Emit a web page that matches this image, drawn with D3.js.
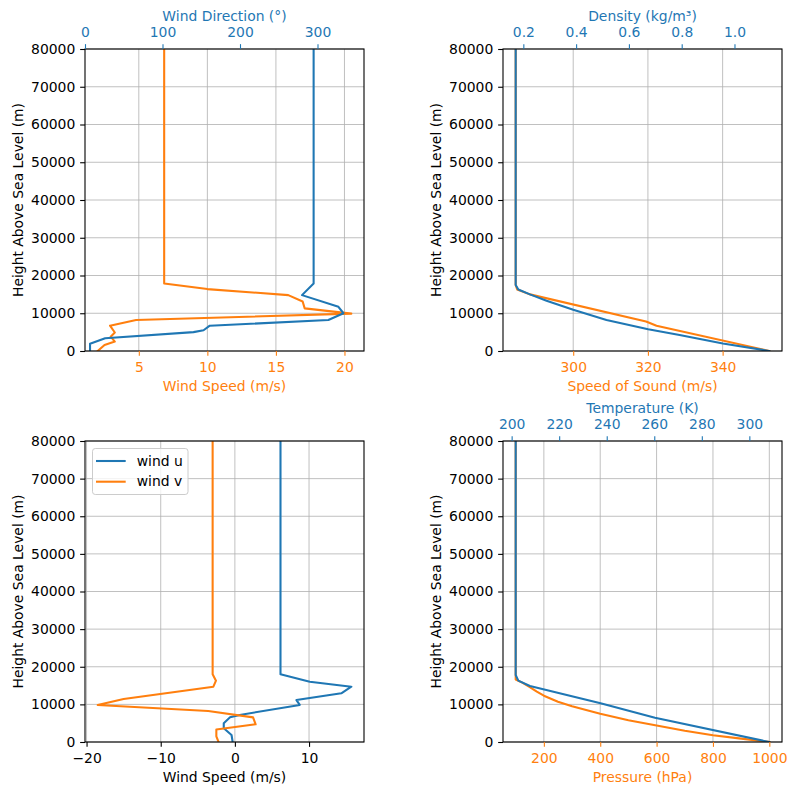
<!DOCTYPE html>
<html>
<head>
<meta charset="utf-8">
<script src="https://cdn.jsdelivr.net/npm/d3@7"></script>
<style>
  body { margin: 0; background: #fff; }
  text { font-family: "DejaVu Sans", sans-serif; }
</style>
</head>
<body>
<div class="container"></div>
<script>
// ---- data ----
const heightTicks = [0, 10000, 20000, 30000, 40000, 50000, 60000, 70000, 80000];

// wind speed / direction (top left)
const speedHeights = [0, 1600, 2500, 3800, 4900, 6700, 8200, 9900, 11300, 13100, 14800, 16400, 17900, 80000];
const windSpeed = [2.0, 2.5, 3.25, 2.95, 3.25, 2.9, 4.8, 20.5, 17.1, 16.95, 15.9, 10.0, 6.85, 6.85];
const directionHeights = [0, 1900, 3400, 5000, 5500, 6700, 8200, 10000, 11700, 14800, 17900, 80000];
const windDirection = [6.5, 6.5, 26, 140, 153, 161, 314, 333.5, 327, 280, 295, 295];
const speedTicks = [5, 10, 15, 20];
const directionTicks = [0, 100, 200, 300];

// speed of sound / density (top right)
const soundHeights = [0, 6700, 7800, 15000, 16300, 17500, 80000];
const soundSpeed = [352.5, 322.3, 319.5, 288.4, 285.0, 284.6, 284.6];
const densityHeights = [0, 2000, 4250, 5750, 8200, 10900, 13300, 15000, 16300, 17500, 80000];
const density = [1.132, 0.956, 0.792, 0.673, 0.515, 0.389, 0.288, 0.225, 0.181, 0.171, 0.171];
const soundTicks = [300, 320, 340];
const densityTicks = [0.2, 0.4, 0.6, 0.8, 1.0];

// wind components (bottom left)
const uHeights = [0, 1850, 3650, 5000, 6550, 7200, 9850, 11150, 12950, 14700, 16000, 18000, 80000];
const windU = [-0.3, -0.45, -1.5, -1.5, -0.65, 0.65, 8.75, 8.3, 14.35, 15.7, 10.1, 6.15, 6.15];
const vHeights = [0, 1500, 3300, 4700, 6550, 8250, 9850, 11450, 14700, 16300, 18000, 80000];
const windV = [-2.2, -2.5, -2.5, 2.8, 2.45, -3.6, -18.5, -15.0, -2.9, -2.55, -3.0, -3.0];
const componentTicks = [-20, -10, 0, 10];

// pressure / temperature (bottom right)
const pressureHeights = [0, 900, 1800, 3000, 4400, 5800, 7500, 9500, 10700, 12300, 13400, 14600, 15700, 16600, 80000];
const pressure = [1000, 900, 800, 700, 600, 500, 400, 300, 250, 200, 175, 150, 125, 100, 100];
const temperatureHeights = [0, 6460, 10290, 14890, 16300, 17800, 80000];
const temperature = [308.4, 260.3, 237.4, 207.7, 202.8, 201.7, 201.7];
const pressureTicks = [200, 400, 600, 800, 1000];
const temperatureTicks = [200, 220, 240, 260, 280, 300];

// ---- layout ----
const width = 797;
const height = 796;
const blue = "#1f77b4";
const orange = "#ff7f0e";
const fontSize = 13.9;
const tickLen = 4.86;

const svg = d3.select(".container")
  .append("svg")
  .attr("width", width)
  .attr("height", height);

// matplotlib style 5% margins around the data
function padded(...arrays) {
  const all = arrays.flat();
  const [lo, hi] = d3.extent(all);
  const pad = (hi - lo) * 0.05;
  return [lo - pad, hi + pad];
}

function panel(p) {
  const g = svg.append("g");
  const y = d3.scaleLinear().domain([0, 80000]).range([p.y1, p.y0]);
  const xb = d3.scaleLinear().domain(p.bottom.domain).range([p.x0, p.x1]);
  const xt = p.top ? d3.scaleLinear().domain(p.top.domain).range([p.x0, p.x1]) : null;

  // grid (from the bottom axis and the height axis)
  g.append("g").selectAll("line")
    .data(p.bottom.ticks)
    .join("line")
    .attr("x1", d => xb(d)).attr("x2", d => xb(d))
    .attr("y1", p.y0).attr("y2", p.y1)
    .attr("stroke", "#b0b0b0").attr("stroke-width", 0.8);
  g.append("g").selectAll("line")
    .data(heightTicks)
    .join("line")
    .attr("x1", p.x0).attr("x2", p.x1)
    .attr("y1", d => y(d)).attr("y2", d => y(d))
    .attr("stroke", "#b0b0b0").attr("stroke-width", 0.8);

  // clip for the curves
  const clipId = "clip" + Math.round(p.x0) + "_" + Math.round(p.y0);
  g.append("clipPath").attr("id", clipId)
    .append("rect")
    .attr("x", p.x0).attr("y", p.y0)
    .attr("width", p.x1 - p.x0).attr("height", p.y1 - p.y0);

  p.series.forEach(s => {
    const sx = s.axis === "top" ? xt : xb;
    const pts = s.values.map((v, i) => [v, s.heights[i]]);
    g.append("path")
      .datum(pts)
      .attr("clip-path", `url(#${clipId})`)
      .attr("fill", "none")
      .attr("stroke", s.color)
      .attr("stroke-width", 2.08)
      .attr("stroke-linejoin", "round")
      .attr("stroke-linecap", "square")
      .attr("d", d3.line().x(d => sx(d[0])).y(d => y(d[1])));
  });

  // spines
  g.append("rect")
    .attr("x", p.x0).attr("y", p.y0)
    .attr("width", p.x1 - p.x0).attr("height", p.y1 - p.y0)
    .attr("fill", "none").attr("stroke", "#000").attr("stroke-width", 1.1);

  // left axis
  const yAxis = g.append("g")
    .attr("transform", `translate(${p.x0},0)`)
    .call(d3.axisLeft(y).tickValues(heightTicks).tickFormat(d3.format("d"))
      .tickSize(tickLen).tickPadding(4.9).tickSizeOuter(0));
  yAxis.select(".domain").remove();
  yAxis.selectAll("line").attr("stroke", "#000").attr("stroke-width", 1.1);
  yAxis.selectAll("text").attr("font-size", fontSize).attr("fill", "#000");

  g.append("text")
    .attr("transform", `translate(${p.x0 - 62},${(p.y0 + p.y1) / 2}) rotate(-90)`)
    .attr("text-anchor", "middle")
    .attr("font-size", fontSize)
    .attr("fill", "#000")
    .text("Height Above Sea Level (m)");

  // bottom axis
  const bAxis = g.append("g")
    .attr("transform", `translate(0,${p.y1})`)
    .call(d3.axisBottom(xb).tickValues(p.bottom.ticks).tickFormat(p.bottom.format)
      .tickSize(tickLen).tickPadding(6.2).tickSizeOuter(0));
  bAxis.select(".domain").remove();
  bAxis.selectAll("line").attr("stroke", p.bottom.color).attr("stroke-width", 1.1);
  bAxis.selectAll("text").attr("font-size", fontSize).attr("fill", p.bottom.color);
  g.append("text")
    .attr("x", (p.x0 + p.x1) / 2).attr("y", p.y1 + 40)
    .attr("text-anchor", "middle")
    .attr("font-size", fontSize)
    .attr("fill", p.bottom.color)
    .text(p.bottom.label);

  // top axis
  if (p.top) {
    const tAxis = g.append("g")
      .attr("transform", `translate(0,${p.y0})`)
      .call(d3.axisTop(xt).tickValues(p.top.ticks).tickFormat(p.top.format)
        .tickSize(tickLen).tickPadding(7.4).tickSizeOuter(0));
    tAxis.select(".domain").remove();
    tAxis.selectAll("line").attr("stroke", p.top.color).attr("stroke-width", 1.1);
    tAxis.selectAll("text").attr("font-size", fontSize).attr("fill", p.top.color);
    g.append("text")
      .attr("x", (p.x0 + p.x1) / 2).attr("y", p.y0 - 28.5)
      .attr("text-anchor", "middle")
      .attr("font-size", fontSize)
      .attr("fill", p.top.color)
      .text(p.top.label);
  }

  // legend
  if (p.legend) {
    const lg = g.append("g");
    lg.append("rect")
      .attr("x", p.x0 + 7.5).attr("y", p.y0 + 7.5)
      .attr("width", 95.5).attr("height", 46)
      .attr("rx", 2.8)
      .attr("fill", "#fff").attr("fill-opacity", 0.8)
      .attr("stroke", "#cccccc");
    p.legend.forEach((item, i) => {
      const ly = p.y0 + 20 + i * 20.7;
      lg.append("line")
        .attr("x1", p.x0 + 11).attr("x2", p.x0 + 40.7)
        .attr("y1", ly).attr("y2", ly)
        .attr("stroke", item.color).attr("stroke-width", 2.08);
      lg.append("text")
        .attr("x", p.x0 + 51.7).attr("y", ly + 4.6)
        .attr("font-size", fontSize)
        .attr("fill", "#000")
        .text(item.label);
    });
  }
}

const intFmt = d3.format("d");

// top left
panel({
  x0: 85, x1: 364, y0: 49, y1: 351,
  bottom: { domain: padded(windSpeed), ticks: speedTicks, format: intFmt, color: orange, label: "Wind Speed (m/s)" },
  top: { domain: [0, 360], ticks: directionTicks, format: intFmt, color: blue, label: "Wind Direction (°)" },
  series: [
    { heights: speedHeights, values: windSpeed, axis: "bottom", color: orange },
    { heights: directionHeights, values: windDirection, axis: "top", color: blue }
  ]
});

// top right
panel({
  x0: 503, x1: 782, y0: 49, y1: 351,
  bottom: { domain: padded(soundSpeed), ticks: soundTicks, format: intFmt, color: orange, label: "Speed of Sound (m/s)" },
  top: { domain: padded(density), ticks: densityTicks, format: d3.format(".1f"), color: blue, label: "Density (kg/m³)" },
  series: [
    { heights: soundHeights, values: soundSpeed, axis: "bottom", color: orange },
    { heights: densityHeights, values: density, axis: "top", color: blue }
  ]
});

// bottom left
panel({
  x0: 85, x1: 364, y0: 441, y1: 742,
  bottom: { domain: padded(windU, windV), ticks: componentTicks, format: intFmt, color: "#000", label: "Wind Speed (m/s)" },
  top: null,
  series: [
    { heights: uHeights, values: windU, axis: "bottom", color: blue },
    { heights: vHeights, values: windV, axis: "bottom", color: orange }
  ],
  legend: [
    { label: "wind u", color: blue },
    { label: "wind v", color: orange }
  ]
});

// bottom right
panel({
  x0: 503, x1: 782, y0: 441, y1: 742,
  bottom: { domain: padded(pressure), ticks: pressureTicks, format: intFmt, color: orange, label: "Pressure (hPa)" },
  top: { domain: padded(temperature), ticks: temperatureTicks, format: intFmt, color: blue, label: "Temperature (K)" },
  series: [
    { heights: pressureHeights, values: pressure, axis: "bottom", color: orange },
    { heights: temperatureHeights, values: temperature, axis: "top", color: blue }
  ]
});
</script>
</body>
</html>
